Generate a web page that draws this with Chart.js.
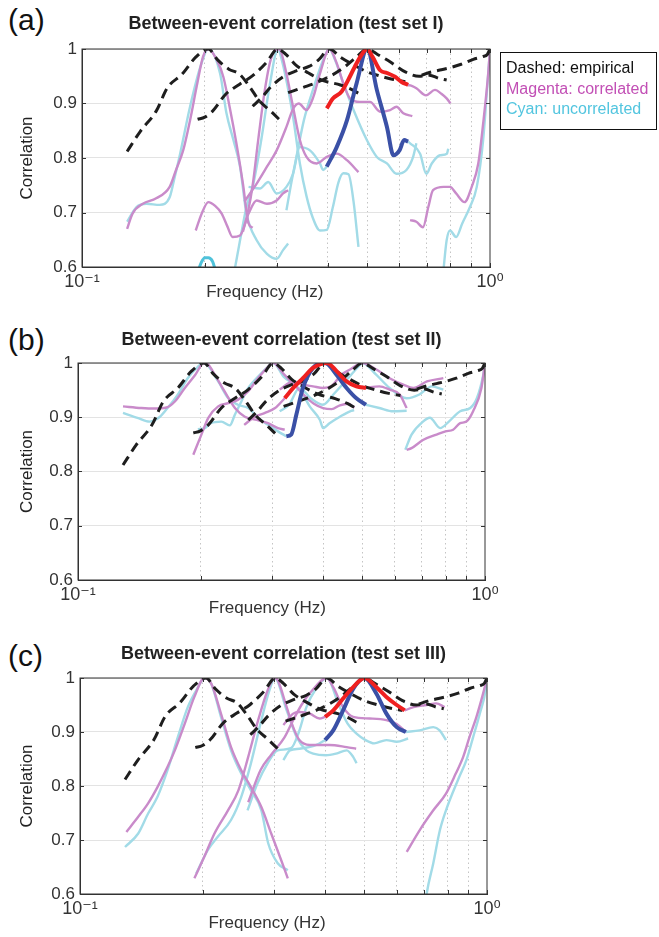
<!DOCTYPE html>
<html>
<head>
<meta charset="utf-8">
<script src="https://cdn.jsdelivr.net/npm/chart.js@4.4.1/dist/chart.umd.min.js"></script>
<style>
  body { margin:0; background:#fff; font-family:"Liberation Sans", Arial, sans-serif; }
  #page { position:relative; width:659px; height:937px; overflow:hidden; }
  .panel { position:absolute; left:0; }
  .tag { position:absolute; left:8px; font-size:30px; line-height:30px; color:#111; }
  #legend { position:absolute; left:500px; top:52px; width:150px; height:71px; border:1.5px solid #111;
            padding:5px 0 0 5px; font-size:16px; line-height:20.5px; color:#111; }
</style>
</head>
<body>
<div id="page">
  <div class="tag" style="top:5px">(a)</div>
  <div class="tag" style="top:325px">(b)</div>
  <div class="tag" style="top:641px">(c)</div>
  <div class="panel" id="pa" style="top:0px;width:572px;height:307px"><canvas id="ca"></canvas></div>
  <div class="panel" id="pb" style="top:314px;width:563px;height:306px"><canvas id="cb"></canvas></div>
  <div class="panel" id="pc" style="top:629px;width:567px;height:305px"><canvas id="cc"></canvas></div>
  <div id="legend">
    <div>Dashed: empirical</div>
    <div style="color:#c24fb5">Magenta: correlated</div>
    <div style="color:#52c5df">Cyan: uncorrelated</div>
  </div>
</div>
<script>
// [frequency (Hz), correlation]
const freqTicks = [0.1, 0.2, 0.3, 0.4, 0.5, 0.6, 0.7, 0.8, 0.9, 1];
const yTicks = [0.6, 0.7, 0.8, 0.9, 1];

// empirical (dashed), identical in all three panels
const emp02 = [[0.129,0.812],[0.139,0.849],[0.152,0.886],[0.162,0.929],[0.176,0.954],[0.19,0.985],[0.204,1],[0.215,0.98],[0.229,0.963],[0.243,0.954],[0.258,0.93],[0.272,0.905],[0.29,0.886],[0.31,0.865]];
const emp03 = [[0.192,0.871],[0.2,0.875],[0.209,0.886],[0.225,0.917],[0.243,0.935],[0.262,0.951],[0.283,0.975],[0.302,1],[0.316,0.99],[0.335,0.97],[0.355,0.958],[0.39,0.942],[0.43,0.934],[0.46,0.925],[0.478,0.918]];
const emp04 = [[0.262,0.895],[0.275,0.91],[0.29,0.93],[0.31,0.948],[0.335,0.96],[0.36,0.968],[0.38,0.98],[0.404,1],[0.43,0.985],[0.46,0.972],[0.5,0.958],[0.54,0.95],[0.58,0.944],[0.62,0.94]];
const emp05 = [[0.32,0.92],[0.35,0.93],[0.38,0.94],[0.41,0.952],[0.44,0.967],[0.47,0.985],[0.5,1],[0.53,0.99],[0.57,0.976],[0.62,0.958],[0.67,0.95],[0.71,0.952],[0.75,0.946],[0.783,0.943]];
const emp10 = [[0.68,0.952],[0.72,0.958],[0.76,0.962],[0.8,0.966],[0.85,0.972],[0.91,0.981],[0.96,0.986],[0.985,0.99],[1,1]];

// (a) test set I
const aMag02 = [[0.129,0.67],[0.133,0.698],[0.141,0.716],[0.152,0.726],[0.164,0.747],[0.17,0.778],[0.177,0.814],[0.184,0.869],[0.191,0.931],[0.198,0.986],[0.204,1],[0.214,0.98],[0.222,0.949],[0.23,0.894],[0.239,0.827],[0.248,0.753],[0.256,0.68],[0.262,0.672]];
const aMagLow = [[0.19,0.667],[0.197,0.7],[0.204,0.719],[0.212,0.712],[0.22,0.698],[0.227,0.675],[0.234,0.655],[0.244,0.658],[0.256,0.698],[0.268,0.722],[0.284,0.716],[0.3,0.722],[0.311,0.735],[0.32,0.741]];
const aMag03 = [[0.248,0.665],[0.255,0.7],[0.262,0.75],[0.27,0.83],[0.28,0.92],[0.29,0.98],[0.302,1],[0.306,0.998],[0.317,0.955],[0.329,0.894],[0.342,0.833],[0.355,0.802],[0.376,0.79],[0.398,0.802],[0.421,0.808],[0.446,0.796],[0.476,0.774]];
const aMag04 = [[0.25,0.72],[0.268,0.753],[0.284,0.784],[0.3,0.814],[0.317,0.857],[0.329,0.89],[0.34,0.9],[0.355,0.888],[0.369,0.912],[0.383,0.955],[0.404,1],[0.421,0.974],[0.437,0.937],[0.454,0.909],[0.48,0.903],[0.508,0.903],[0.538,0.885],[0.569,0.888],[0.59,0.894],[0.613,0.882],[0.645,0.877]];
const aRed = [[0.398,0.891],[0.412,0.909],[0.433,0.922],[0.449,0.943],[0.466,0.967],[0.484,0.989],[0.5,1],[0.515,0.986],[0.538,0.961],[0.559,0.956],[0.585,0.949],[0.606,0.94],[0.63,0.934]];
const aMag05 = [[0.63,0.934],[0.645,0.932],[0.66,0.928],[0.697,0.915],[0.733,0.925],[0.76,0.918],[0.784,0.909],[0.8,0.9]];
const aMag10 = [[0.637,0.686],[0.66,0.683],[0.685,0.673],[0.706,0.71],[0.725,0.741],[0.77,0.747],[0.798,0.747],[0.826,0.735],[0.866,0.719],[0.902,0.747],[0.936,0.79],[0.962,0.863],[0.99,0.955],[1,1]];
const aCyan02 = [[0.129,0.683],[0.136,0.71],[0.144,0.716],[0.155,0.714],[0.164,0.728],[0.168,0.759],[0.174,0.808],[0.184,0.894],[0.195,0.967],[0.204,1],[0.218,0.955],[0.226,0.882],[0.235,0.833],[0.244,0.784],[0.253,0.698],[0.268,0.649],[0.284,0.624],[0.3,0.615],[0.311,0.631],[0.32,0.643]];
const aCyan03 = [[0.236,0.59],[0.244,0.649],[0.253,0.71],[0.262,0.747],[0.275,0.833],[0.289,0.937],[0.302,1],[0.31,0.975],[0.318,0.937],[0.329,0.876],[0.342,0.79],[0.355,0.73],[0.368,0.69],[0.383,0.667],[0.398,0.668],[0.412,0.71],[0.425,0.755],[0.437,0.772],[0.45,0.77],[0.463,0.72],[0.476,0.637]];
const aCyan04 = [[0.317,0.704],[0.325,0.75],[0.335,0.8],[0.35,0.87],[0.37,0.93],[0.39,0.98],[0.404,1],[0.417,0.98],[0.437,0.937],[0.463,0.888],[0.499,0.833],[0.528,0.802],[0.559,0.79],[0.59,0.771],[0.624,0.778],[0.648,0.802],[0.66,0.827]];
const aCyan05 = [[0.256,0.747],[0.273,0.744],[0.286,0.756],[0.3,0.735],[0.317,0.747],[0.329,0.771],[0.342,0.82],[0.362,0.814],[0.383,0.79],[0.39,0.778],[0.398,0.784]];
const aBlue = [[0.398,0.784],[0.421,0.82],[0.446,0.869],[0.471,0.937],[0.5,1],[0.528,0.925],[0.559,0.857],[0.58,0.805],[0.6,0.814],[0.616,0.833],[0.63,0.83]];
const aCyan05r = [[0.63,0.83],[0.637,0.827],[0.674,0.808],[0.698,0.771],[0.72,0.79],[0.754,0.805],[0.784,0.808],[0.79,0.817]];
const aCyan10 = [[0.768,0.59],[0.783,0.649],[0.798,0.667],[0.826,0.655],[0.855,0.68],[0.893,0.71],[0.928,0.747],[0.962,0.833],[0.99,0.955],[1,1]];
const aCyanArc = [[0.192,0.59],[0.196,0.608],[0.2,0.617],[0.204,0.617],[0.209,0.61],[0.213,0.59]];

// (b) test set II
const bMag02 = [[0.129,0.92],[0.143,0.917],[0.154,0.916],[0.165,0.918],[0.173,0.929],[0.183,0.954],[0.194,0.978],[0.204,1],[0.209,0.997],[0.217,0.978],[0.229,0.948],[0.243,0.917],[0.257,0.901],[0.275,0.895],[0.293,0.889],[0.31,0.88],[0.322,0.877]];
const bMag03 = [[0.192,0.831],[0.201,0.868],[0.209,0.899],[0.221,0.92],[0.234,0.926],[0.247,0.932],[0.262,0.948],[0.277,0.972],[0.293,0.993],[0.302,1],[0.32,0.98],[0.34,0.96],[0.36,0.94],[0.38,0.925],[0.4,0.917],[0.42,0.915],[0.44,0.922],[0.46,0.925],[0.478,0.918]];
const bMag04 = [[0.256,0.886],[0.272,0.901],[0.288,0.908],[0.305,0.917],[0.322,0.935]];
const bRed = [[0.322,0.935],[0.338,0.954],[0.357,0.972],[0.378,0.991],[0.409,1],[0.432,0.985],[0.457,0.966],[0.483,0.957],[0.51,0.954]];
const bMag04r = [[0.51,0.954],[0.55,0.957],[0.583,0.951],[0.617,0.942],[0.642,0.917]];
const bMag05 = [[0.313,0.951],[0.338,0.966],[0.357,0.96],[0.378,0.957],[0.4,0.954],[0.419,0.957],[0.443,0.978],[0.466,0.988],[0.5,1],[0.541,0.988],[0.583,0.972],[0.63,0.96],[0.667,0.954],[0.72,0.966],[0.79,0.972]];
const bMag10 = [[0.642,0.84],[0.66,0.843],[0.704,0.858],[0.76,0.868],[0.8,0.874],[0.835,0.877],[0.869,0.889],[0.9,0.892],[0.935,0.911],[0.98,0.954],[1,1]];
const bCyan02 = [[0.129,0.908],[0.14,0.899],[0.15,0.892],[0.159,0.901],[0.166,0.917],[0.176,0.942],[0.186,0.972],[0.197,0.993],[0.204,1],[0.221,0.966],[0.234,0.935],[0.247,0.923],[0.262,0.917],[0.277,0.899],[0.293,0.886],[0.31,0.874],[0.325,0.865]];
const bCyan03 = [[0.197,0.878],[0.205,0.88],[0.212,0.889],[0.225,0.892],[0.236,0.885],[0.243,0.905],[0.252,0.929],[0.262,0.954],[0.277,0.975],[0.293,0.993],[0.302,1],[0.32,0.975],[0.351,0.951],[0.371,0.92],[0.393,0.895],[0.4,0.88],[0.415,0.889],[0.44,0.901],[0.466,0.911],[0.477,0.913]];
const bBlue = [[0.325,0.865],[0.334,0.868],[0.344,0.905],[0.357,0.954],[0.378,0.991],[0.405,1],[0.432,0.978],[0.457,0.954],[0.483,0.935],[0.51,0.923]];
const bCyan04r = [[0.51,0.923],[0.55,0.917],[0.595,0.911],[0.642,0.912]];
const bCyan05 = [[0.313,0.911],[0.33,0.923],[0.35,0.954],[0.373,0.935],[0.4,0.923],[0.424,0.942],[0.457,0.969],[0.49,0.994],[0.5,1],[0.541,0.978],[0.583,0.954],[0.642,0.935],[0.69,0.942],[0.74,0.957],[0.79,0.951]];
const bCyan10 = [[0.637,0.84],[0.66,0.868],[0.704,0.892],[0.732,0.899],[0.776,0.88],[0.815,0.892],[0.869,0.911],[0.92,0.917],[0.955,0.935],[0.99,0.978],[1,1]];

// (c) test set III
const cMag02 = [[0.13,0.715],[0.139,0.743],[0.147,0.768],[0.155,0.798],[0.164,0.835],[0.171,0.866],[0.181,0.916],[0.191,0.965],[0.202,1],[0.21,0.99],[0.222,0.934],[0.235,0.872],[0.249,0.829],[0.263,0.798],[0.279,0.761],[0.295,0.712],[0.312,0.663],[0.324,0.629]];
const cMag03 = [[0.191,0.629],[0.202,0.669],[0.214,0.712],[0.231,0.755],[0.245,0.792],[0.259,0.854],[0.274,0.922],[0.289,0.977],[0.301,1],[0.306,0.996],[0.322,0.946],[0.334,0.909],[0.346,0.885],[0.367,0.876],[0.388,0.876],[0.41,0.876],[0.452,0.872],[0.477,0.869]];
const cMag04 = [[0.259,0.77],[0.278,0.83],[0.295,0.858],[0.318,0.89],[0.333,0.92],[0.35,0.95],[0.37,0.975],[0.404,1],[0.419,0.983],[0.443,0.946],[0.469,0.928],[0.515,0.925],[0.566,0.922],[0.6,0.915],[0.632,0.9]];
const cMag05 = [[0.316,0.913],[0.334,0.934],[0.346,0.937],[0.367,0.934],[0.388,0.925],[0.4,0.928]];
const cRed = [[0.4,0.928],[0.419,0.94],[0.443,0.962],[0.469,0.983],[0.5,1],[0.535,0.983],[0.566,0.965],[0.6,0.95],[0.628,0.94]];
const cMag05r = [[0.628,0.94],[0.66,0.946],[0.71,0.95],[0.75,0.953],[0.787,0.946]];
const cMag10 = [[0.635,0.678],[0.683,0.718],[0.738,0.755],[0.793,0.786],[0.838,0.823],[0.874,0.854],[0.906,0.891],[0.942,0.928],[0.978,0.971],[1,1]];
const cCyan02 = [[0.129,0.687],[0.139,0.712],[0.147,0.749],[0.155,0.78],[0.164,0.829],[0.174,0.891],[0.184,0.946],[0.195,0.983],[0.202,1],[0.21,0.99],[0.222,0.928],[0.235,0.866],[0.249,0.823],[0.263,0.792],[0.279,0.755],[0.29,0.694],[0.306,0.657],[0.324,0.644]];
const cCyan03 = [[0.193,0.638],[0.206,0.681],[0.218,0.706],[0.235,0.737],[0.249,0.78],[0.263,0.842],[0.279,0.922],[0.292,0.977],[0.301,1],[0.322,0.94],[0.341,0.89],[0.36,0.866],[0.374,0.86],[0.402,0.857],[0.426,0.86],[0.452,0.866],[0.469,0.854],[0.478,0.842]];
const cCyan04 = [[0.258,0.755],[0.273,0.805],[0.289,0.842],[0.306,0.866],[0.33,0.87],[0.345,0.9],[0.36,0.946],[0.38,0.98],[0.404,1],[0.41,0.996],[0.431,0.953],[0.454,0.916],[0.478,0.897],[0.503,0.885],[0.528,0.879],[0.566,0.885],[0.6,0.882],[0.64,0.888]];
const cCyan05 = [[0.316,0.848],[0.328,0.866],[0.346,0.869],[0.381,0.876],[0.4,0.885]];
const cBlue = [[0.4,0.885],[0.419,0.903],[0.443,0.94],[0.469,0.98],[0.5,1],[0.535,0.971],[0.566,0.934],[0.6,0.909],[0.632,0.9]];
const cCyan05r = [[0.632,0.9],[0.683,0.903],[0.738,0.909],[0.765,0.903],[0.793,0.885]];
const cCyan10 = [[0.708,0.59],[0.711,0.601],[0.738,0.657],[0.766,0.718],[0.793,0.755],[0.822,0.786],[0.855,0.817],[0.89,0.848],[0.925,0.891],[0.96,0.934],[0.995,0.983],[1,1]];

const empirical = [emp02, emp03, emp04, emp05, emp10];

const STYLE = {
  emp:  { borderColor: '#1e1e1e', borderWidth: 3, borderDash: [10, 6], order: 2 },
  mag:  { borderColor: '#c98bca', borderWidth: 2.4, order: 3 },
  cyan: { borderColor: '#a2dbe7', borderWidth: 2.4, order: 4 },
  cyanDark: { borderColor: '#4fc2da', borderWidth: 3, order: 4 },
  red:  { borderColor: '#ef2020', borderWidth: 4, order: 0 },
  blue: { borderColor: '#3a50a6', borderWidth: 4, order: 1 },
};

const withEmp = list => empirical.map(e => ['emp', e]).concat(list);

const seriesA = withEmp([
  ['mag', aMag02], ['mag', aMagLow], ['mag', aMag03], ['mag', aMag04], ['mag', aMag05], ['mag', aMag10],
  ['cyan', aCyan02], ['cyan', aCyan03], ['cyan', aCyan04], ['cyan', aCyan05], ['cyan', aCyan05r], ['cyan', aCyan10],
  ['cyanDark', aCyanArc], ['red', aRed], ['blue', aBlue],
]);
const seriesB = withEmp([
  ['mag', bMag02], ['mag', bMag03], ['mag', bMag04], ['mag', bMag04r], ['mag', bMag05], ['mag', bMag10],
  ['cyan', bCyan02], ['cyan', bCyan03], ['cyan', bCyan04r], ['cyan', bCyan05], ['cyan', bCyan10],
  ['red', bRed], ['blue', bBlue],
]);
const seriesC = withEmp([
  ['mag', cMag02], ['mag', cMag03], ['mag', cMag04], ['mag', cMag05], ['mag', cMag05r], ['mag', cMag10],
  ['cyan', cCyan02], ['cyan', cCyan03], ['cyan', cCyan04], ['cyan', cCyan05], ['cyan', cCyan05r], ['cyan', cCyan10],
  ['red', cRed], ['blue', cBlue],
]);

const FONT = '"Liberation Sans", Arial, "DejaVu Sans", sans-serif';
Chart.defaults.font.family = FONT;
Chart.defaults.color = '#333';

function toDataset([kind, pts]) {
  return Object.assign({
    data: pts.map(([x, y]) => ({ x, y })),
    pointRadius: 0, fill: false, cubicInterpolationMode: 'monotone', borderCapStyle: 'butt',
  }, STYLE[kind]);
}

// matlab-style box with inward ticks
const boxPlugin = {
  id: 'box',
  afterDraw(chart) {
    const { ctx, chartArea: a, scales: { x, y } } = chart;
    ctx.save();
    ctx.strokeStyle = '#333';
    ctx.lineWidth = 1;
    ctx.strokeRect(a.left, a.top, a.right - a.left, a.bottom - a.top);
    ctx.beginPath();
    yTicks.forEach(v => {
      const py = Math.round(y.getPixelForValue(v)) + 0.5;
      ctx.moveTo(a.left, py); ctx.lineTo(a.left + 4, py);
      ctx.moveTo(a.right, py); ctx.lineTo(a.right - 4, py);
    });
    freqTicks.forEach(v => {
      const px = Math.round(x.getPixelForValue(v)) + 0.5;
      ctx.moveTo(px, a.bottom); ctx.lineTo(px, a.bottom - 4);
      ctx.moveTo(px, a.top); ctx.lineTo(px, a.top + 4);
    });
    ctx.stroke();
    ctx.restore();
  }
};

const isDecade = v => Math.abs(Math.log10(v) - Math.round(Math.log10(v))) < 1e-6;

function makePanel(canvasId, p) {
  return new Chart(document.getElementById(canvasId), {
    type: 'line',
    data: { datasets: p.series.map(toDataset) },
    plugins: [boxPlugin],
    options: {
      responsive: true,
      maintainAspectRatio: false,
      animation: false,
      events: [],
      layout: { padding: 0 },
      plugins: {
        legend: { display: false },
        tooltip: { enabled: false },
        title: {
          display: true, text: p.title, color: '#222',
          font: { size: 18, weight: 'bold' }, padding: p.titlePad,
        },
      },
      scales: {
        x: {
          type: 'logarithmic', min: 0.1, max: 1,
          afterBuildTicks: s => { s.ticks = freqTicks.map(v => ({ value: v })); },
          afterFit: s => { s.height = 40; },
          grid: {
            drawTicks: false,
            color: c => (c.tick && isDecade(c.tick.value)) ? 'rgba(0,0,0,0)' : '#c4c4c4',
          },
          border: { color: '#333', dash: [1.5, 3] },
          ticks: {
            autoSkip: false, maxRotation: 0, padding: 4, color: '#333', font: { size: 18 },
            callback: v => Math.abs(Math.log10(v) + 1) < 1e-6 ? '10\u207B\u00B9'
                          : Math.abs(Math.log10(v)) < 1e-6 ? '10\u2070' : '',
          },
          title: {
            display: true, text: 'Frequency (Hz)' + ' '.repeat(p.spaces), color: '#333',
            font: { size: 17 }, padding: { top: 0, bottom: p.xTitleBottom },
          },
        },
        y: {
          min: 0.6, max: 1,
          afterFit: s => { s.width = p.yw; },
          grid: { drawTicks: false, color: '#e3e3e3' },
          border: { color: '#333' },
          ticks: {
            stepSize: 0.1, padding: 5, color: '#333', font: { size: 17 },
            callback: v => String(+v.toFixed(1)),
          },
          title: {
            display: true, text: 'Correlation', color: '#222',
            font: { size: 17 }, padding: { top: 16.8, bottom: 0 },
          },
        },
        yRight: {
          position: 'right', display: true,
          afterFit: s => { s.width = p.yw; },
          grid: { display: false }, border: { display: false }, ticks: { display: false },
        },
      },
    },
  });
}

makePanel('ca', { title: 'Between-event correlation (test set I)', series: seriesA, yw: 82,
  titlePad: { top: 13.7, bottom: 13.7 }, xTitleBottom: 4.8, spaces: 9 });
makePanel('cb', { title: 'Between-event correlation (test set II)', series: seriesB, yw: 78,
  titlePad: { top: 15.7, bottom: 11.7 }, xTitleBottom: 1.8, spaces: 6 });
makePanel('cc', { title: 'Between-event correlation (test set III)', series: seriesC, yw: 80,
  titlePad: { top: 14.7, bottom: 12.7 }, xTitleBottom: 0.8, spaces: 7 });
</script>
</body>
</html>
